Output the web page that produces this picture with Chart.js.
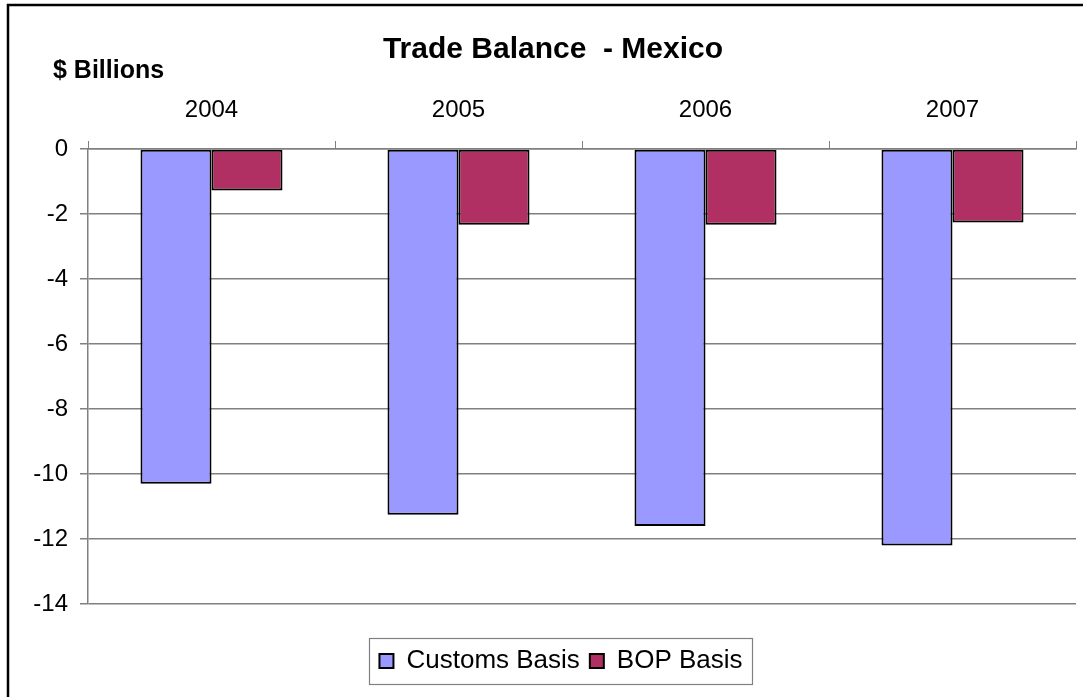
<!DOCTYPE html>
<html>
<head>
<meta charset="utf-8">
<script src="https://cdn.jsdelivr.net/npm/chart.js@4/dist/chart.umd.min.js"></script>
<style>
  body { margin: 0; background: #fff; overflow: hidden; }
  #chart-trade { display: block; }
</style>
</head>
<body>
<canvas id="chart-trade" width="1083" height="697"></canvas>
<script>
// values ($ billions)
const years = ['2004', '2005', '2006', '2007'];
const customsBasis = [-10.3, -11.25, -11.6, -12.2];
const bopBasis = [-1.28, -2.33, -2.33, -2.26];
const chartTitle = 'Trade Balance  - Mexico';
const unitLabel = '$ Billions';

const axisGray = '#808080';
const legendShift = 23; // legend sits a bit right of the canvas centre

// frame, title and the unit text
const decorations = {
  id: 'decorations',
  afterLayout(chart) {
    chart.legend.left += legendShift;
    chart.legend.right += legendShift;
  },
  beforeDraw(chart) {
    const ctx = chart.ctx;
    ctx.save();
    ctx.strokeStyle = '#000';
    ctx.lineWidth = 2.5;
    ctx.strokeRect(8, 5, 1100, 720);
    ctx.restore();
  },
  afterDraw(chart) {
    const ctx = chart.ctx;
    ctx.save();
    ctx.fillStyle = '#000';
    ctx.textBaseline = 'alphabetic';
    ctx.font = 'bold 30px "Liberation Sans", Arial, sans-serif';
    ctx.textAlign = 'center';
    ctx.fillText(chartTitle, 553, 58);
    ctx.font = 'bold 25px "Liberation Sans", Arial, sans-serif';
    ctx.textAlign = 'left';
    ctx.fillText(unitLabel, 53, 78);

    // box round the legend
    const boxes = chart.legend.legendHitBoxes;
    if (boxes && boxes.length) {
      let x0 = Infinity, x1 = -Infinity, y0 = Infinity, y1 = -Infinity;
      boxes.forEach(b => {
        x0 = Math.min(x0, b.left);
        x1 = Math.max(x1, b.left + b.width);
        y0 = Math.min(y0, b.top);
        y1 = Math.max(y1, b.top + b.height);
      });
      ctx.strokeStyle = axisGray;
      ctx.lineWidth = 1.2;
      ctx.strokeRect(Math.round(x0 - 10) + 0.5, Math.round(y0 - 10) + 0.5,
                     Math.round(x1 - x0 + 20), Math.round(y1 - y0 + 20));
    }
    ctx.restore();
  }
};

const ctx = document.getElementById('chart-trade').getContext('2d');
const myChart = new Chart(ctx, {
  type: 'bar',
  data: {
    labels: years,
    datasets: [{
      label: 'Customs Basis',
      data: customsBasis,
      backgroundColor: '#9999ff',
      borderColor: '#000',
      borderWidth: 2,
      borderSkipped: false
    }, {
      label: 'BOP Basis',
      data: bopBasis,
      backgroundColor: '#b03064',
      borderColor: '#000',
      borderWidth: 2,
      borderSkipped: false
    }]
  },
  options: {
    responsive: false,
    animation: false,
    layout: { padding: { left: 0, right: 7, top: 0, bottom: 13 } },
    datasets: {
      bar: { categoryPercentage: 0.575, barPercentage: 1.0 }
    },
    scales: {
      x: {
        position: 'top',
        grid: {
          offset: true,
          drawOnChartArea: false,
          drawTicks: true,
          tickLength: 8,
          color: axisGray
        },
        border: { color: axisGray, width: 1.5 },
        ticks: {
          color: '#000',
          padding: 16,
          font: { family: '"Liberation Sans", Arial, sans-serif', size: 24 }
        },
        afterFit(scale) { scale.height = 149; }
      },
      y: {
        min: -14,
        max: 0,
        ticks: {
          stepSize: 2,
          color: '#000',
          padding: 12,
          font: { family: '"Liberation Sans", Arial, sans-serif', size: 24 }
        },
        grid: {
          color: axisGray,
          lineWidth: 1.5,
          tickLength: 8
        },
        border: { color: axisGray, width: 1.5 },
        afterFit(scale) { scale.width = 88; }
      }
    },
    plugins: {
      title: { display: false },
      tooltip: { enabled: false },
      legend: {
        position: 'bottom',
        title: {
          display: true,
          text: ' ',
          font: { size: 10 },
          padding: { top: 0, bottom: 22 }
        },
        labels: {
          color: '#000',
          boxWidth: 14,
          boxHeight: 14,
          padding: 10,
          font: { family: '"Liberation Sans", Arial, sans-serif', size: 26 }
        }
      }
    }
  },
  plugins: [decorations]
});
</script>
</body>
</html>
